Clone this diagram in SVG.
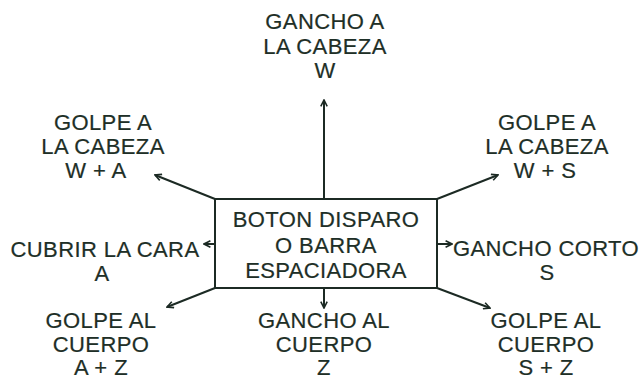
<svg xmlns="http://www.w3.org/2000/svg" width="642" height="380" viewBox="0 0 642 380">
<style>
text{font-family:"Liberation Sans",Arial,sans-serif;font-size:22px;fill:#1e2f27;stroke:#1e2f27;stroke-width:0.2px;text-anchor:middle;letter-spacing:0.4px}
.c{stroke:#1c2a24;stroke-width:2;fill:none}
</style>
<defs>
<marker id="ah" viewBox="0 0 10 10" refX="9" refY="5" markerWidth="8" markerHeight="8" markerUnits="userSpaceOnUse" orient="auto">
<path d="M1,1 L9,5 L1,9" fill="none" stroke="#1c2a24" stroke-width="2"/>
</marker>
</defs>
<rect width="642" height="380" fill="#ffffff"/>
<g id="connectors" class="c" marker-end="url(#ah)">
<line x1="324" y1="199" x2="324" y2="100"/>
<line x1="215" y1="199" x2="155" y2="175"/>
<line x1="437" y1="199" x2="498" y2="175"/>
<line x1="215" y1="244" x2="204" y2="244"/>
<line x1="437" y1="244" x2="452" y2="244"/>
<line x1="215" y1="288" x2="167" y2="307"/>
<line x1="324" y1="288" x2="324" y2="308"/>
<line x1="437" y1="288" x2="490" y2="308"/>
</g>
<g id="center">
<rect x="215" y="199" width="222" height="89" class="c"/>
<text x="326" y="227">BOTON DISPARO</text>
<text x="326" y="253">O BARRA</text>
<text x="326" y="278">ESPACIADORA</text>
</g>
<g id="top">
<text x="325" y="29">GANCHO A</text>
<text x="325" y="54">LA CABEZA</text>
<text x="325" y="78">W</text>
</g>
<g id="topleft">
<text x="103" y="130">GOLPE A</text>
<text x="103" y="154">LA CABEZA</text>
<text x="96" y="178">W + A</text>
</g>
<g id="topright">
<text x="547" y="130">GOLPE A</text>
<text x="547" y="154">LA CABEZA</text>
<text x="545" y="178">W + S</text>
</g>
<g id="left">
<text x="105" y="257">CUBRIR LA CARA</text>
<text x="102" y="281">A</text>
</g>
<g id="right">
<text x="546" y="256">GANCHO CORTO</text>
<text x="547" y="280">S</text>
</g>
<g id="bottomleft">
<text x="101" y="328">GOLPE AL</text>
<text x="101" y="352">CUERPO</text>
<text x="101" y="375">A + Z</text>
</g>
<g id="bottom">
<text x="324" y="328">GANCHO AL</text>
<text x="324" y="352">CUERPO</text>
<text x="324" y="375">Z</text>
</g>
<g id="bottomright">
<text x="546" y="328">GOLPE AL</text>
<text x="546" y="352">CUERPO</text>
<text x="546" y="375">S + Z</text>
</g>
</svg>
